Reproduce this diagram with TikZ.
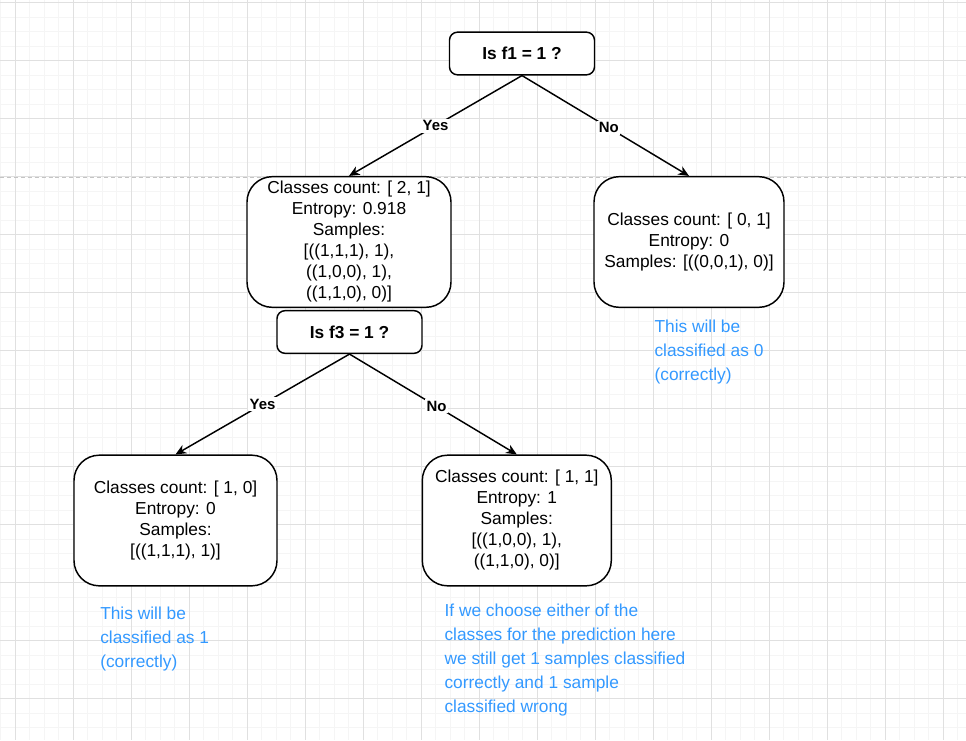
\documentclass[tikz,border=0pt]{standalone}
\usepackage{fontspec}
\setmainfont{Liberation Sans}
\usetikzlibrary{arrows.meta}
\definecolor{notecolor}{HTML}{3399FF}
\definecolor{gridmajor}{HTML}{E0E0E0}
\definecolor{gridminor}{HTML}{F5F5F5}
\definecolor{breakcolor}{HTML}{C4C4C4}

\begin{document}
\begin{tikzpicture}[x=0.75pt,y=-0.75pt,
  question/.style={draw, line width=1.1pt, rounded corners=6pt, fill=white,
    minimum width=108.75pt, minimum height=32pt, inner sep=0pt,
    font=\fontsize{13}{15.75}\selectfont\bfseries},
  leaf/.style={draw, line width=1.1pt, rounded corners=19pt, fill=white,
    inner sep=0pt, align=center, minimum height=98pt,
    font=\fontsize{13}{15.75}\selectfont},
  branch/.style={line width=1.1pt, -{Stealth[length=8pt,width=7pt,inset=2.5pt]}},
  answer/.style={fill=white, inner sep=1.2pt,
    font=\fontsize{11.2}{13}\selectfont\bfseries},
  remark/.style={anchor=north west, inner sep=0pt, align=left, text=notecolor,
    font=\fontsize{13}{18}\selectfont},
  minorline/.style={gridminor, line width=0.75pt},
  majorline/.style={gridmajor, line width=0.75pt},
  pagebreak/.style={breakcolor, line width=0.75pt, dash pattern=on 3pt off 2.2pt},
]
% canvas
\useasboundingbox (0,0) rectangle (966,740);
\fill[white] (0,0) rectangle (966,740);

% background grid
\foreach \i in {0,...,66} \draw[minorline] ({0.8+14.5*\i},0) -- ({0.8+14.5*\i},740);
\foreach \j in {0,...,50} \draw[minorline] (0,{2.7+14.5*\j}) -- (966,{2.7+14.5*\j});
\foreach \i in {0,...,16} \draw[majorline] ({15.3+58*\i},0) -- ({15.3+58*\i},740);
\foreach \j in {0,...,12} \draw[majorline] (0,{2.7+58*\j}) -- (966,{2.7+58*\j});

% page break
\draw[pagebreak] (0,177.3) -- (966,177.3);

% decision nodes
\node[question] (q1) at (522,53.5) {Is f1 = 1 ?};
\node[question] (q2) at (349.5,332) {Is f3 = 1 ?};

% data nodes
\node[leaf, minimum width=153pt] (n1) at (349,242)
  {Classes count: [ 2, 1]\\Entropy: 0.918\\Samples:\\{[}((1,1,1), 1),\\((1,0,0), 1),\\((1,1,0), 0)]};
\node[leaf, minimum width=142.5pt] (n2) at (689,242)
  {Classes count: [ 0, 1]\\Entropy: 0\\Samples: [((0,0,1), 0)]};
\node[leaf, minimum width=152.25pt] (n3) at (175.5,520.5)
  {Classes count: [ 1, 0]\\Entropy: 0\\Samples:\\{[}((1,1,1), 1)]};
\node[leaf, minimum width=141.75pt] (n4) at (516.8,520.5)
  {Classes count: [ 1, 1]\\Entropy: 1\\Samples:\\{[}((1,0,0), 1),\\((1,1,0), 0)]};

% branches
\draw[branch] (q1.south) -- node[answer] {Yes} (n1.north);
\draw[branch] (q1.south) -- node[answer, pos=0.52] {No} (n2.north);
\draw[branch] (q2.south) -- node[answer] {Yes} (n3.north);
\draw[branch] (q2.south) -- node[answer, pos=0.52] {No} (n4.north);

% notes
\node[remark] (r1) at (654.3,319.5) {This will be\\classified as 0\\(correctly)};
\node[remark] (r2) at (100,607) {This will be\\classified as 1\\(correctly)};
\node[remark] (r3) at (444.3,603.5) {If we choose either of the\\classes for the prediction here\\we still get 1 samples classified\\correctly and 1 sample\\classified wrong};
\end{tikzpicture}
\end{document}
